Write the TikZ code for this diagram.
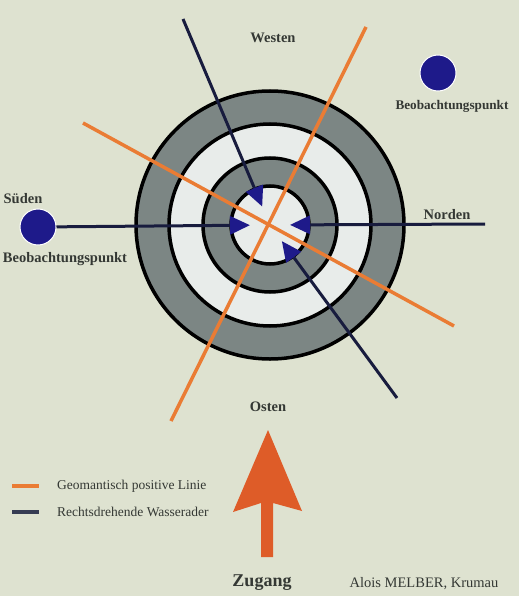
\documentclass[tikz,border=0pt]{standalone}
\usepackage{fontspec}
\setmainfont{Liberation Serif}
\usetikzlibrary{arrows.meta,calc}
\definecolor{board}{RGB}{222,226,208}
\definecolor{ringgray}{RGB}{124,134,132}
\definecolor{ringwhite}{RGB}{232,236,234}
\definecolor{veinblue}{RGB}{24,28,62}
\definecolor{spotblue}{RGB}{30,26,138}
\definecolor{geoorange}{RGB}{234,124,52}
\definecolor{zugangred}{RGB}{222,92,40}
\definecolor{textgray}{RGB}{52,56,52}
\begin{document}
\begin{tikzpicture}[x=1pt,y=-1pt]
\tikzstyle{label}=[font=\bfseries\fontsize{14.5}{16}\selectfont,text=textgray,inner sep=0pt]
\tikzstyle{legend}=[font=\fontsize{13.5}{15}\selectfont,text=textgray,inner sep=0pt,anchor=west]
\tikzstyle{ring}=[draw=black,line width=3.5pt]
\tikzstyle{vein}=[draw=veinblue,line width=3pt]
\tikzstyle{veintip}=[-{Triangle[length=20pt,width=18pt,color=spotblue]}]
\tikzstyle{geoline}=[draw=geoorange,line width=3.5pt]
\tikzstyle{spot}=[circle,fill=spotblue,draw=white,line width=1pt,minimum size=36pt,inner sep=0pt]

\useasboundingbox[fill=board] (0,0) rectangle (519,596);

\coordinate (c) at (270,225);
\fill[ringgray] (c) circle (134);
\fill[ringwhite] (c) circle (101);
\fill[ringgray] (c) circle (67);
\fill[ringwhite] (c) circle (39);
\foreach \r in {134,101,67,39}
	\draw[ring] (c) circle (\r);

\node[spot] (sud) at (38,227) {};
\node[spot] (obs) at (438,73) {};
\coordinate (nord) at (485,224);
\coordinate (nw) at (183,19);
\coordinate (se) at (397,398);

\draw[vein,veintip] (sud) -- ($(c)!20pt!(sud)$);
\draw[vein,veintip] (nord) -- ($(c)!20pt!(nord)$);
\draw[vein,veintip] (nw) -- ($(c)!20pt!(nw)$);
\draw[vein,veintip] (se) -- ($(c)!20pt!(se)$);

\coordinate (g1a) at (83,123);
\coordinate (g1b) at (454,326);
\coordinate (g2a) at (366,27);
\coordinate (g2b) at (171,421);
\draw[geoline] (g1a) -- (g1b);
\draw[geoline] (g2a) -- (g2b);

\node[label] (westen) at (273,38) {Westen};
\node[label] (osten) at (268,407) {Osten};
\node[label] (norden) at (447,215) {Norden};
\node[label] (suden) at (23,199) {Süden};
\node[label] (obsr) at (452,106) {\fontsize{13.2}{15}\selectfont Beobachtungspunkt};
\node[label] (obsl) at (65,259) {Beobachtungspunkt};

\coordinate (k1a) at (12,486);
\coordinate (k1b) at (39,486);
\coordinate (k2a) at (12,512);
\coordinate (k2b) at (39,512);
\draw[geoline] (k1a) -- (k1b);
\draw[vein,line width=3.5pt,draw=veinblue!70!ringgray] (k2a) -- (k2b);
\node[legend] (geo) at (57,486) {Geomantisch positive Linie};
\node[legend] (wasser) at (57,512) {Rechtsdrehende Wasserader};

\fill[zugangred] (268,430) -- (302,511) -- (273,503) -- (273,557)
	-- (261,557) -- (261,503) -- (233,512) -- cycle;
\node[label,font=\bfseries\fontsize{18}{20}\selectfont] (zugang) at (262,583) {Zugang};
\node[legend,anchor=center,font=\fontsize{14.5}{16}\selectfont] (autor) at (424,584) {Alois MELBER, Krumau};
\end{tikzpicture}
\end{document}
